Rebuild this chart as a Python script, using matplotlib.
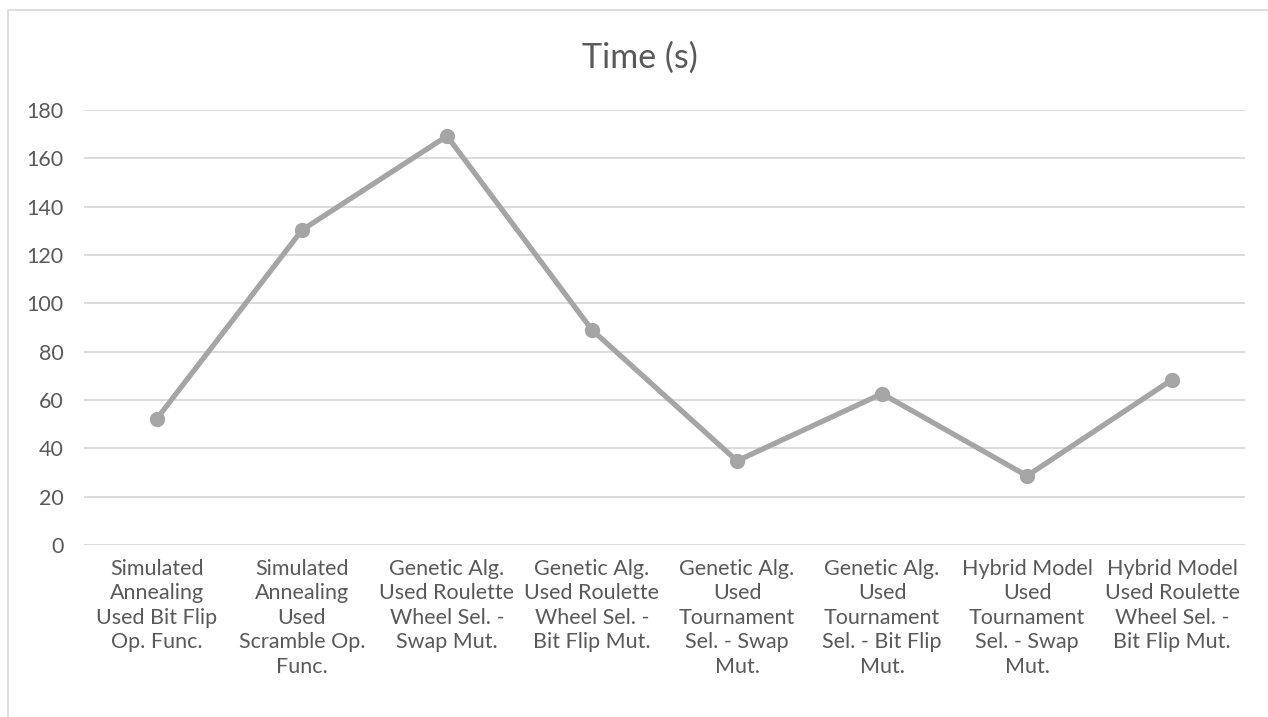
import matplotlib.pyplot as plt
from matplotlib.patches import Rectangle

categories = [
    "Simulated\nAnnealing\nUsed Bit Flip\nOp. Func.",
    "Simulated\nAnnealing\nUsed\nScramble Op.\nFunc.",
    "Genetic Alg.\nUsed Roulette\nWheel Sel. -\nSwap Mut.",
    "Genetic Alg.\nUsed Roulette\nWheel Sel. -\nBit Flip Mut.",
    "Genetic Alg.\nUsed\nTournament\nSel. - Swap\nMut.",
    "Genetic Alg.\nUsed\nTournament\nSel. - Bit Flip\nMut.",
    "Hybrid Model\nUsed\nTournament\nSel. - Swap\nMut.",
    "Hybrid Model\nUsed Roulette\nWheel Sel. -\nBit Flip Mut.",
]
times = [52.3, 130.3, 169.2, 89.0, 34.8, 62.6, 28.6, 68.4]
yticks = [0, 20, 40, 60, 80, 100, 120, 140, 160, 180]

plt.rcParams['font.family'] = ['Lato', 'DejaVu Sans']

fig = plt.figure(figsize=(12.68, 7.17), dpi=100)
ax = fig.add_axes([0.0666, 0.2399, 0.9149, 0.6067])

x = list(range(len(times)))
ax.plot(x, times, color='#a5a5a5', linewidth=3.8, marker='o', markersize=10,
        solid_capstyle='round', zorder=3)

ax.set_xlim(-0.5, len(times) - 0.5)
ax.set_ylim(0, 180)
ax.set_yticks(yticks)
ax.set_xticks(x)
ax.set_xticklabels(categories, linespacing=1.28, va='top')
ax.grid(axis='y', color='#d9d9d9', linewidth=1.3)
ax.set_axisbelow(True)
for s in ax.spines.values():
    s.set_visible(False)
ax.tick_params(axis='both', length=0, labelsize=15.5, labelcolor='#595959')
ax.tick_params(axis='y', pad=15)
ax.tick_params(axis='x', pad=10)

fig.text(0.505, 0.92, "Time (s)", ha='center', va='center', fontsize=24.5,
         color='#595959')

# chart area border (left and top visible)
fig.patches.append(Rectangle((8 / 1268, -0.1), 1.2, 1 - 10 / 717 + 0.1,
                             transform=fig.transFigure, fill=False,
                             edgecolor='#d9d9d9', linewidth=1.2))

plt.savefig('out.png', dpi=100)
